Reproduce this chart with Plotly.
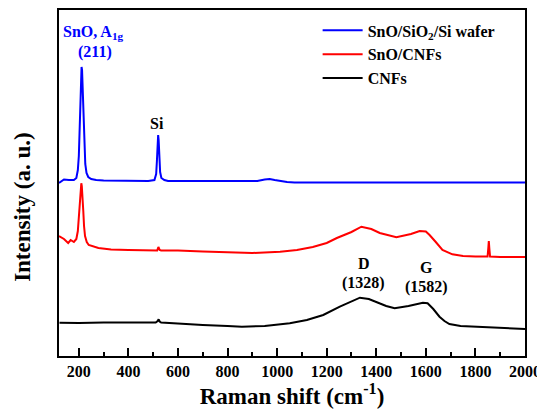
import plotly.graph_objects as go

# ---- data (Raman shift in cm-1, intensity in a.u.) ----
blue_x = [120, 140, 160, 180, 190, 196, 200, 203, 206, 209, 211, 213, 216, 219, 222, 226,
          231, 238, 250, 270, 300, 400, 480, 505, 512, 515, 518, 520, 522, 525, 528, 533,
          545, 560, 650, 750, 850, 920, 950, 970, 990, 1010, 1040, 1070, 1100, 1300, 1500,
          1700, 1900, 2000]
blue_y = [173, 176.5, 176, 176, 178, 186, 200, 230, 262, 283, 289, 286, 265, 235, 210, 192,
          183, 179, 177, 176, 175.5, 175, 175, 176, 182, 195, 215, 221, 216, 198, 184, 178,
          176, 175, 175, 174.5, 174.5, 175, 176.5, 177, 176, 175, 174, 173.5, 173.5, 173.5,
          173.5, 173.5, 173.5, 173.5]

red_x = [120, 140, 157, 167, 180, 190, 196, 199, 202, 205, 208, 210, 212, 215, 218, 221,
         225, 232, 240, 279, 330, 400, 500, 516, 521, 526, 532, 540, 600, 700, 800, 900,
         1012, 1080, 1144, 1200, 1241, 1300, 1340, 1380, 1414, 1450, 1481, 1540, 1575,
         1600, 1615, 1640, 1667, 1707, 1750, 1800, 1849, 1852, 1854, 1856, 1859, 1900, 2000]
red_y = [120, 117, 113, 116, 114, 117, 125, 135, 150, 163, 171, 172.7, 170, 160, 145, 130,
         120, 114, 111, 108, 106.5, 106, 105.5, 105.5, 109, 106, 105.5, 105.5, 105.5, 104.5,
         104, 103, 104.3, 106, 109, 113, 118, 124, 129.3, 127, 123, 120.5, 118.7, 122, 125,
         124.5, 121, 114, 106, 101.7, 100, 99.5, 99.5, 108, 115, 108, 99.5, 99, 99]

black_x = [122, 200, 300, 347, 450, 510, 518, 522, 526, 532, 560, 600, 700, 800, 858, 950,
           1051, 1120, 1186, 1253, 1300, 1334, 1370, 1401, 1440, 1474, 1530, 1588, 1607,
           1630, 1655, 1675, 1695, 1740, 1789, 1900, 2000]
black_y = [33.3, 33, 33.5, 33.7, 33.5, 33.5, 35, 36.7, 34.5, 33.5, 33, 32.5, 31, 30, 29.3, 30,
           32.7, 36, 41, 49.3, 55, 58.3, 57, 53.7, 50, 47.7, 50, 53.3, 52.7,
           47, 39.3, 35, 32, 30, 29.3, 28, 27]

series_names = ["SnO/SiO<sub>2</sub>/Si wafer", "SnO/CNFs", "CNFs"]
series_colors = ["#0000ff", "#ff0000", "#000000"]

x_ticks = [200, 400, 600, 800, 1000, 1200, 1400, 1600, 1800, 2000]
x_minor_ticks = [300, 500, 700, 900, 1100, 1300, 1500, 1700, 1900]
x_range = [120, 2000]
y_range = [0, 346]

FONT = "Liberation Serif"

fig = go.Figure()
for xs, ys, name, col in zip([blue_x, red_x, black_x], [blue_y, red_y, black_y],
                             series_names, series_colors):
    fig.add_trace(go.Scatter(x=xs, y=ys, mode="lines", name="<b>%s</b>" % name,
                             line=dict(color=col, width=2)))

# peak labels
labels = [
    dict(x=259, y=324, text="SnO, A<sub>1g</sub>", color="#0000ff"),
    dict(x=267, y=304, text="(211)", color="#0000ff"),
    dict(x=516, y=233, text="Si", color="#000000"),
    dict(x=1350, y=93, text="D", color="#000000"),
    dict(x=1350, y=73, text="(1328)", color="#000000"),
    dict(x=1602, y=89, text="G", color="#000000"),
    dict(x=1603, y=69, text="(1582)", color="#000000"),
]
for lb in labels:
    fig.add_annotation(x=lb["x"], y=lb["y"], xref="x", yref="y", text="<b>%s</b>" % lb["text"],
                       showarrow=False, font=dict(family=FONT, size=16, color=lb["color"]))

fig.add_annotation(x=-0.078, y=0.43, xref="paper", yref="paper", xanchor="center", yanchor="middle",
                   text="<b>Intensity (a. u.)</b>", textangle=-90, showarrow=False,
                   font=dict(family=FONT, size=23, color="black"))

# the page body adds an 8px offset, so the figure is 8px smaller than the window
fig.update_layout(
    width=537, height=408,
    margin=dict(l=51, r=20, t=2, b=60, autoexpand=False),
    plot_bgcolor="white", paper_bgcolor="white",
    font=dict(family=FONT, color="black"),
    showlegend=True,
    legend=dict(x=0.555, y=0.99, xanchor="left", yanchor="top", bgcolor="rgba(0,0,0,0)",
                font=dict(family=FONT, size=16, color="black"),
                itemwidth=40, tracegroupgap=0),
    xaxis=dict(range=x_range, tickmode="array", tickvals=x_ticks,
               ticktext=["<b>%d</b>" % v for v in x_ticks],
               ticks="inside", ticklen=8, tickwidth=2, tickcolor="black",
               minor=dict(tickmode="array", tickvals=x_minor_ticks, ticks="inside",
                          ticklen=4, tickwidth=2, tickcolor="black"),
               showline=True, linewidth=2, linecolor="black", mirror=True, showgrid=False,
               zeroline=False,
               tickfont=dict(family=FONT, size=16, color="black"),
               title=dict(text="<b>Raman shift (cm<sup>-1</sup>)</b>", standoff=6,
                          font=dict(family=FONT, size=23, color="black"))),
    yaxis=dict(range=y_range, showticklabels=False, ticks="", showline=True, linewidth=2,
               linecolor="black", mirror=True, showgrid=False, zeroline=False),
)

fig.write_html("out.html")
